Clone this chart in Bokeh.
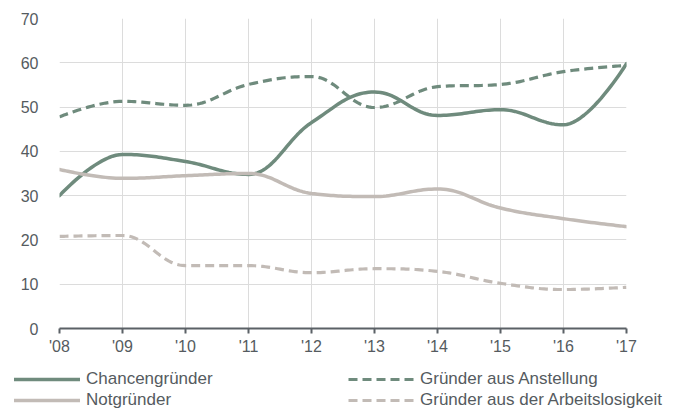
from bokeh.plotting import figure
from bokeh.layouts import column
from bokeh.models import Range1d, FixedTicker, Legend, LegendItem, ColumnDataSource
from bokeh.embed import file_html
from bokeh.resources import INLINE

years = [2008, 2009, 2010, 2011, 2012, 2013, 2014, 2015, 2016, 2017]
tick_labels = ["'08", "'09", "'10", "'11", "'12", "'13", "'14", "'15", "'16", "'17"]
chancen = [30.0, 39.3, 37.7, 34.8, 46.5, 53.4, 48.1, 49.4, 46.0, 59.8]
anstellung = [47.8, 51.3, 50.4, 55.1, 56.9, 49.9, 54.6, 55.1, 58.0, 59.4]
not_gr = [35.9, 33.9, 34.5, 35.0, 30.5, 29.8, 31.5, 27.2, 24.8, 23.0]
arbeitslos = [20.8, 21.0, 14.2, 14.2, 12.6, 13.5, 12.9, 10.2, 8.8, 9.3]

GREEN = "#6f8b7d"
GRAY = "#c2bbb6"
TEXT = "#555b60"
FONT = "Liberation Sans"


def spline(xs, ys, steps=24):
    """Smooth curve through the data points (Highcharts-style spline)."""
    n = len(xs)
    s, d = 1.5, 2.5
    lc = [(x, y) for x, y in zip(xs, ys)]
    rc = [(x, y) for x, y in zip(xs, ys)]
    for i in range(1, n - 1):
        x, y = xs[i], ys[i]
        px, py = xs[i - 1], ys[i - 1]
        nx, ny = xs[i + 1], ys[i + 1]
        lcx, lcy = (s * x + px) / d, (s * y + py) / d
        rcx, rcy = (s * x + nx) / d, (s * y + ny) / d
        if rcx != lcx:
            corr = (rcy - lcy) * (rcx - x) / (rcx - lcx) + y - rcy
            lcy += corr
            rcy += corr
        if lcy > py and lcy > y:
            lcy = max(py, y); rcy = 2 * y - lcy
        elif lcy < py and lcy < y:
            lcy = min(py, y); rcy = 2 * y - lcy
        if rcy > ny and rcy > y:
            rcy = max(ny, y); lcy = 2 * y - rcy
        elif rcy < ny and rcy < y:
            rcy = min(ny, y); lcy = 2 * y - rcy
        lc[i] = (lcx, lcy)
        rc[i] = (rcx, rcy)
    ox, oy = [xs[0]], [ys[0]]
    for i in range(1, n):
        p0 = (xs[i - 1], ys[i - 1]); p1 = rc[i - 1]; p2 = lc[i]; p3 = (xs[i], ys[i])
        for k in range(1, steps + 1):
            t = k / steps
            a = (1 - t) ** 3; b = 3 * (1 - t) ** 2 * t; c = 3 * (1 - t) * t ** 2; e = t ** 3
            ox.append(a * p0[0] + b * p1[0] + c * p2[0] + e * p3[0])
            oy.append(a * p0[1] + b * p1[1] + c * p2[1] + e * p3[1])
    return ox, oy


p = figure(width=680, height=366, output_backend="svg", toolbar_location=None,
           x_range=Range1d(2008, 2017), y_range=Range1d(0, 70),
           min_border_left=59, min_border_right=54, min_border_top=18, min_border_bottom=38)
p.outline_line_color = None
p.background_fill_color = "white"
p.border_fill_color = "white"
p.frame_align = False

p.xaxis.ticker = FixedTicker(ticks=years)
p.xaxis.major_label_overrides = {y: l for y, l in zip(years, tick_labels)}
p.yaxis.ticker = FixedTicker(ticks=[0, 10, 20, 30, 40, 50, 60, 70])
p.xgrid.ticker = FixedTicker(ticks=years)
p.ygrid.ticker = FixedTicker(ticks=[0, 10, 20, 30, 40, 50, 60, 70])
for g in (p.xgrid, p.ygrid):
    g.grid_line_color = "#dcdcdc"
    g.grid_line_width = 1

p.xaxis.axis_line_color = "#5b6166"
p.xaxis.axis_line_width = 2
p.xaxis.major_tick_line_color = "#5b6166"
p.xaxis.major_tick_line_width = 2
p.xaxis.major_tick_out = 5
p.xaxis.major_tick_in = 0
p.xaxis.minor_tick_line_color = None
p.xaxis.major_label_standoff = 4
p.yaxis.axis_line_color = None
p.yaxis.major_tick_line_color = None
p.yaxis.minor_tick_line_color = None
p.yaxis.major_label_standoff = 15
for ax in (p.xaxis, p.yaxis):
    ax.major_label_text_font = FONT
    ax.major_label_text_font_size = "16px"
    ax.major_label_text_color = TEXT

series = [
    ("Chancengründer", chancen, GREEN, "solid"),
    ("Gründer aus Anstellung", anstellung, GREEN, "9 5"),
    ("Notgründer", not_gr, GRAY, "solid"),
    ("Gründer aus der Arbeitslosigkeit", arbeitslos, GRAY, "9 5"),
]

# legend strip below the chart
q = figure(width=680, height=43, output_backend="svg", toolbar_location=None,
           x_range=Range1d(0, 1), y_range=Range1d(0, 1), x_axis_type=None, y_axis_type=None,
           min_border_left=0, min_border_right=0, min_border_top=0, min_border_bottom=0)
q.outline_line_color = None
q.grid.visible = False
q.border_fill_color = "white"
q.frame_align = False

items = {}
for name, vals, col, dash in series:
    sx, sy = spline(years, vals)
    style = dict(line_color=col, line_width=3.5 if dash == "solid" else 3.2, line_dash=dash,
                 line_cap="round" if dash == "solid" else "butt", line_join="round")
    src = ColumnDataSource(dict(x=sx, y=sy))
    p.line("x", "y", source=src, **style)
    items[name] = q.line("x", "y", source=src, visible=False, **style)


def make_legend(names, loc):
    lg = Legend(items=[LegendItem(label=n, renderers=[items[n]]) for n in names],
                location=loc, orientation="vertical")
    lg.glyph_width = 66
    lg.glyph_height = 18
    lg.label_height = 18
    lg.spacing = 1
    lg.padding = 0
    lg.margin = 0
    lg.label_standoff = 6
    lg.label_text_font = FONT
    lg.label_text_font_size = "17px"
    lg.label_text_color = TEXT
    lg.border_line_color = None
    lg.background_fill_alpha = 0
    return lg


q.add_layout(make_legend(["Chancengründer", "Notgründer"], (14, -1)), "center")
q.add_layout(make_legend(["Gründer aus Anstellung", "Gründer aus der Arbeitslosigkeit"], (348, -1)), "center")

layout = column(p, q, spacing=0)
open("out.html", "w").write(file_html(layout, INLINE))
